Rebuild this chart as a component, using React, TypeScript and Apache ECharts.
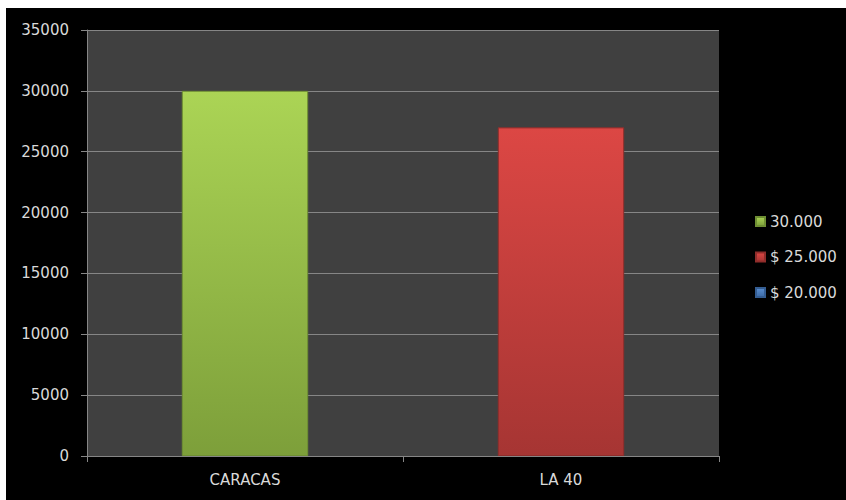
import React, { useEffect, useRef } from "react";
import * as echarts from "echarts";

const categories = ["CARACAS", "LA 40"];
const seriesNames = ["30.000", "$ 25.000", "$ 20.000"];
const greenValues = [30000, null];
const redValues = [null, 27000];
const blueValues = [null, null];
const yTicks = { min: 0, max: 35000, interval: 5000 };

const grad = (top: string, bottom: string) =>
  new echarts.graphic.LinearGradient(0, 0, 0, 1, [
    { offset: 0, color: top },
    { offset: 1, color: bottom },
  ]);

export default function App() {
  const ref = useRef<HTMLDivElement>(null);
  useEffect(() => {
    if (!ref.current) return;
    const chart = echarts.init(ref.current, undefined, { renderer: "svg" });
    const font = "DejaVu Sans";
    const labelColor = "#d9d9d9";
    const lineColor = "#868686";
    const mk = (name: string, data: any[], top: string, bottom: string, border: string) => ({
      name,
      type: "bar",
      stack: "total",
      barWidth: "40%",
      data,
      itemStyle: { color: grad(top, bottom), borderColor: border, borderWidth: 1 },
    });
    chart.setOption({
      animation: false,
      backgroundColor: "#000000",
      textStyle: { fontFamily: font },
      grid: {
        left: 81,
        top: 22,
        width: 632,
        height: 426,
        show: true,
        backgroundColor: "#404040",
        borderWidth: 0,
        containLabel: false,
      },
      legend: {
        orient: "vertical",
        left: 744,
        top: 201,
        itemWidth: 9,
        itemHeight: 9,
        itemGap: 20.5,
        icon: "rect",
        textStyle: { color: labelColor, fontSize: 15, fontFamily: font },
        data: seriesNames,
      },
      xAxis: {
        type: "category",
        data: categories,
        axisLine: { show: true, lineStyle: { color: lineColor, width: 1 } },
        axisTick: { show: true, length: 6, lineStyle: { color: lineColor } },
        axisLabel: { color: labelColor, fontSize: 15, fontFamily: font, margin: 16 },
        splitLine: { show: false },
      },
      yAxis: {
        type: "value",
        min: yTicks.min,
        max: yTicks.max,
        interval: yTicks.interval,
        axisLine: { show: true, lineStyle: { color: lineColor, width: 1 } },
        axisTick: { show: true, length: 6, lineStyle: { color: lineColor } },
        axisLabel: {
          color: labelColor,
          fontSize: 15,
          fontFamily: font,
          margin: 18,
          formatter: (v: number) => String(v),
        },
        splitLine: { show: true, lineStyle: { color: lineColor, width: 1 } },
      },
      series: [
        mk(seriesNames[0], greenValues, "#abd455", "#7d9f3a", "#6f8f33"),
        mk(seriesNames[1], redValues, "#dc4744", "#a63533", "#8f2d2b"),
        mk(seriesNames[2], blueValues, "#5b8fd0", "#3c6aa6", "#345d92"),
      ],
    });
    return () => chart.dispose();
  }, []);
  return (
    <div
      ref={ref}
      style={{ position: "fixed", left: 6, top: 8, width: 840, height: 492, background: "#000" }}
    />
  );
}
